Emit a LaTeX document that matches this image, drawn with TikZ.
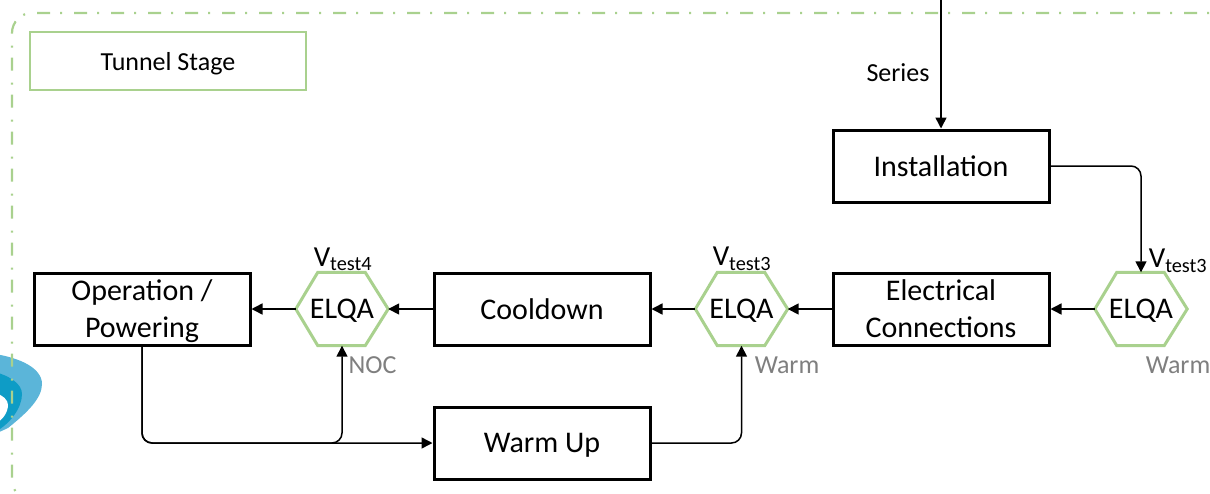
\documentclass[tikz,border=0pt]{standalone}
\usepackage{fontspec}
\setmainfont{Carlito}
\usetikzlibrary{arrows.meta,calc}
\definecolor{elqagreen}{HTML}{A9D18E}
\definecolor{noteGrey}{HTML}{7F7F7F}
\definecolor{logoLight}{HTML}{5BB5D9}
\definecolor{logoDark}{HTML}{0E9CC6}
\tikzset{
  stagebox/.style={draw=black,line width=3pt,minimum width=216pt,minimum height=72pt,inner sep=0pt,align=center,text depth=0pt,font=\fontsize{30}{37}\selectfont},
  hexcore/.style={minimum width=92pt,minimum height=73pt,inner sep=0pt,text depth=0pt,font=\fontsize{30}{36}\selectfont},
  hexline/.style={draw=elqagreen,line width=3pt,line join=miter},
  conn/.style={draw=black,line width=1.5pt,rounded corners=10pt,-{Triangle[length=11pt,width=11pt]}},
  note/.style={text=noteGrey,font=\fontsize{26}{30}\selectfont,inner sep=0pt},
  vlabel/.style={font=\fontsize{29}{36}\selectfont,inner sep=0pt},
}
\newcommand{\hexdraw}[1]{\draw[hexline] ($(#1.west)$) -- ($(#1.north west)+(22pt,0)$) -- ($(#1.north east)+(-23pt,0)$) -- (#1.east) -- ($(#1.south east)+(-23pt,0)$) -- ($(#1.south west)+(22pt,0)$) -- cycle;}
\begin{document}
\begin{tikzpicture}[x=1pt,y=-1pt]
\useasboundingbox (0,0) rectangle (1210,493);
\clip (0,0) rectangle (1210,493);
% logo
\fill[logoLight] (-5,354) .. controls (20,358) and (42,368) .. (42,384) .. controls (42,398) and (28,412) .. (8,428) -- (-5,434) -- cycle;
\fill[logoDark] (-5,372) .. controls (10,376) and (22,384) .. (22,394) .. controls (22,408) and (10,424) .. (-5,432) -- cycle;
\fill[white] (-5,393) .. controls (3,395) and (8,400) .. (8,405) .. controls (8,412) and (3,420) .. (-5,424) -- cycle;
% border
\draw[elqagreen,line width=2.2pt,dash pattern=on 13pt off 12pt on 2pt off 10pt,rounded corners=20pt] (1234,13) -- (12,13) -- (12,500) -- (1230,500);
\node[draw=elqagreen,line width=1.5pt,minimum width=276pt,minimum height=58pt,inner sep=0pt,text depth=0pt,font=\fontsize{26}{30}\selectfont] (title) at (168,61) {Tunnel Stage};
% boxes
\node[stagebox] (inst) at (941,166) {Installation};
\node[stagebox] (elec) at (941,309) {Electrical\\Connections};
\node[stagebox] (cool) at (542,309) {Cooldown};
\node[stagebox] (oper) at (142,309) {Operation /\\Powering};
\node[stagebox] (warm) at (542,443) {Warm Up};
% hexagons
\node[hexcore] (h1) at (1141,309) {ELQA};
\node[hexcore] (h2) at (741.5,309) {ELQA};
\node[hexcore] (h3) at (342,309) {ELQA};
\hexdraw{h1}\hexdraw{h2}\hexdraw{h3}
% labels
\node[vlabel] (v1) at (1178,261) {V\textsubscript{test3}};
\node[vlabel] (v2) at (742,259) {V\textsubscript{test3}};
\node[vlabel] (v3) at (343,259) {V\textsubscript{test4}};
\node[note] (n1) at (1178,365) {Warm};
\node[note] (n2) at (787,365) {Warm};
\node[note] (n3) at (372.5,365) {NOC};
\node[inner sep=0pt,font=\fontsize{26}{30}\selectfont] (series) at (898,73) {Series};
% connectors
\coordinate (top) at (941,-5);
\coordinate (merge) at (h3.south |- warm.west);
\draw[conn] (top) -- (inst.north);
\draw[conn] (inst.east) -| (h1.north);
\draw[conn] (h1.west) -- (elec.east);
\draw[conn] (elec.west) -- (h2.east);
\draw[conn] (h2.west) -- (cool.east);
\draw[conn] (cool.west) -- (h3.east);
\draw[conn] (h3.west) -- (oper.east);
\draw[conn] (oper.south) |- (warm.west);
\draw[conn] (oper.south) |- (merge) -- (h3.south);
\draw[conn] (warm.east) -| (h2.south);
\end{tikzpicture}
\end{document}
